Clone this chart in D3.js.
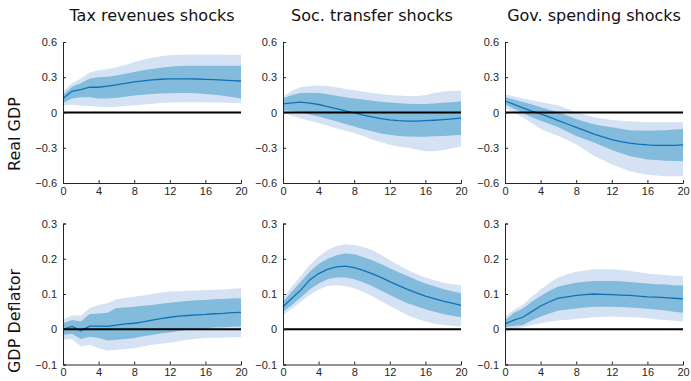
<!DOCTYPE html>
<html>
<head>
<meta charset="utf-8">
<script src="https://cdn.jsdelivr.net/npm/d3@7"></script>
<style>
  html, body { margin: 0; padding: 0; background: #fff; }
  svg { display: block; }
</style>
</head>
<body>
<svg id="chart" width="691" height="381"></svg>
<script>
// Impulse responses, horizons 0..20 quarters: median, 68% band, 90% band
const horizons = d3.range(0, 21);
const shockTitles = ["Tax revenues shocks", "Soc. transfer shocks", "Gov. spending shocks"];
const variableLabels = ["Real GDP", "GDP Deflator"];
const xTicks = [0, 4, 8, 12, 16, 20];
const gdpTicks = [-0.6, -0.3, 0, 0.3, 0.6];
const deflTicks = [-0.1, 0, 0.1, 0.2, 0.3];

// Tax revenues shock -> Real GDP
const taxGdpMed  = [0.12,0.18,0.195,0.215,0.215,0.225,0.235,0.248,0.26,0.27,0.278,0.283,0.286,0.287,0.287,0.285,0.282,0.279,0.276,0.272,0.268];
const taxGdpHi68 = [0.15,0.22,0.25,0.29,0.30,0.305,0.315,0.33,0.345,0.36,0.37,0.38,0.39,0.395,0.397,0.398,0.398,0.398,0.398,0.398,0.398];
const taxGdpLo68 = [0.08,0.12,0.13,0.13,0.12,0.12,0.125,0.135,0.145,0.152,0.158,0.162,0.164,0.165,0.165,0.163,0.158,0.152,0.143,0.132,0.12];
const taxGdpHi90 = [0.18,0.25,0.29,0.34,0.36,0.37,0.385,0.405,0.43,0.45,0.465,0.478,0.487,0.492,0.494,0.494,0.494,0.493,0.492,0.491,0.49];
const taxGdpLo90 = [0.06,0.065,0.06,0.055,0.048,0.045,0.05,0.055,0.062,0.068,0.075,0.08,0.085,0.087,0.088,0.088,0.087,0.085,0.083,0.08,0.078];

// Social transfer shock -> Real GDP
const socGdpMed  = [0.074,0.082,0.088,0.08,0.068,0.05,0.032,0.014,-0.004,-0.022,-0.038,-0.052,-0.062,-0.07,-0.073,-0.073,-0.07,-0.066,-0.061,-0.055,-0.048];
const socGdpHi68 = [0.12,0.15,0.165,0.168,0.165,0.155,0.142,0.13,0.12,0.11,0.10,0.092,0.085,0.078,0.074,0.072,0.072,0.076,0.082,0.088,0.095];
const socGdpLo68 = [0.02,0.012,0.0,-0.018,-0.035,-0.055,-0.075,-0.098,-0.12,-0.14,-0.16,-0.178,-0.19,-0.2,-0.205,-0.207,-0.206,-0.203,-0.2,-0.195,-0.19];
const socGdpHi90 = [0.135,0.185,0.215,0.225,0.23,0.225,0.215,0.2,0.19,0.178,0.165,0.157,0.15,0.145,0.14,0.14,0.148,0.165,0.178,0.182,0.185];
const socGdpLo90 = [-0.005,-0.028,-0.05,-0.07,-0.09,-0.112,-0.135,-0.155,-0.175,-0.2,-0.23,-0.252,-0.275,-0.29,-0.30,-0.315,-0.33,-0.33,-0.32,-0.305,-0.29];

// Government spending shock -> Real GDP
const govGdpMed  = [0.098,0.07,0.04,0.011,-0.012,-0.04,-0.07,-0.098,-0.126,-0.155,-0.184,-0.208,-0.23,-0.247,-0.26,-0.269,-0.276,-0.279,-0.28,-0.279,-0.276];
const govGdpHi68 = [0.13,0.11,0.09,0.068,0.045,0.024,0.003,-0.025,-0.055,-0.078,-0.1,-0.114,-0.126,-0.139,-0.15,-0.153,-0.155,-0.154,-0.15,-0.145,-0.14];
const govGdpLo68 = [0.07,0.032,-0.005,-0.04,-0.07,-0.098,-0.126,-0.163,-0.2,-0.228,-0.256,-0.288,-0.32,-0.345,-0.37,-0.385,-0.4,-0.405,-0.41,-0.412,-0.414];
const govGdpHi90 = [0.155,0.138,0.12,0.105,0.09,0.075,0.06,0.032,0.003,-0.018,-0.04,-0.052,-0.063,-0.07,-0.075,-0.079,-0.083,-0.083,-0.083,-0.083,-0.083];
const govGdpLo90 = [0.04,0.0,-0.04,-0.09,-0.14,-0.17,-0.2,-0.235,-0.27,-0.32,-0.37,-0.405,-0.443,-0.47,-0.5,-0.515,-0.53,-0.537,-0.543,-0.543,-0.543];

// Tax revenues shock -> GDP deflator
const taxDefMed  = [0.0,0.008,-0.004,0.009,0.009,0.008,0.012,0.015,0.017,0.021,0.026,0.03,0.034,0.037,0.039,0.041,0.042,0.044,0.045,0.047,0.048];
const taxDefHi68 = [0.017,0.026,0.022,0.043,0.045,0.047,0.06,0.062,0.064,0.067,0.069,0.072,0.075,0.078,0.08,0.082,0.083,0.085,0.086,0.087,0.088];
const taxDefLo68 = [-0.016,-0.013,-0.028,-0.021,-0.025,-0.032,-0.03,-0.028,-0.025,-0.02,-0.016,-0.012,-0.009,-0.005,-0.002,0.001,0.003,0.005,0.006,0.007,0.008];
const taxDefHi90 = [0.026,0.04,0.038,0.06,0.069,0.074,0.085,0.089,0.092,0.096,0.1,0.104,0.107,0.108,0.109,0.11,0.111,0.112,0.113,0.115,0.116];
const taxDefLo90 = [-0.03,-0.028,-0.049,-0.044,-0.054,-0.06,-0.058,-0.056,-0.054,-0.049,-0.044,-0.041,-0.038,-0.034,-0.03,-0.027,-0.025,-0.024,-0.024,-0.023,-0.023];

// Social transfer shock -> GDP deflator
const socDefMed  = [0.064,0.088,0.111,0.14,0.158,0.17,0.177,0.179,0.175,0.167,0.158,0.147,0.135,0.124,0.113,0.103,0.094,0.087,0.08,0.074,0.068];
const socDefHi68 = [0.078,0.107,0.135,0.163,0.185,0.2,0.21,0.215,0.213,0.205,0.196,0.185,0.173,0.162,0.151,0.14,0.13,0.122,0.114,0.108,0.102];
const socDefLo68 = [0.05,0.069,0.09,0.113,0.13,0.142,0.147,0.147,0.142,0.133,0.123,0.11,0.097,0.085,0.074,0.065,0.057,0.05,0.043,0.038,0.034];
const socDefHi90 = [0.088,0.121,0.151,0.182,0.206,0.225,0.236,0.241,0.239,0.233,0.225,0.211,0.196,0.182,0.168,0.157,0.147,0.139,0.132,0.128,0.125];
const socDefLo90 = [0.04,0.059,0.078,0.097,0.113,0.123,0.125,0.123,0.116,0.106,0.094,0.08,0.066,0.053,0.04,0.03,0.022,0.016,0.012,0.01,0.008];

// Government spending shock -> GDP deflator
const govDefMed  = [0.015,0.026,0.034,0.05,0.066,0.078,0.088,0.092,0.096,0.098,0.1,0.099,0.098,0.097,0.096,0.094,0.092,0.091,0.09,0.088,0.086];
const govDefHi68 = [0.026,0.047,0.059,0.078,0.094,0.109,0.121,0.127,0.132,0.135,0.137,0.137,0.137,0.136,0.134,0.132,0.13,0.128,0.127,0.125,0.124];
const govDefLo68 = [0.006,0.009,0.012,0.025,0.036,0.045,0.053,0.056,0.059,0.062,0.064,0.064,0.064,0.063,0.062,0.06,0.058,0.056,0.053,0.05,0.047];
const govDefHi90 = [0.036,0.055,0.069,0.092,0.113,0.132,0.147,0.156,0.163,0.167,0.17,0.17,0.17,0.168,0.166,0.162,0.158,0.156,0.154,0.152,0.151];
const govDefLo90 = [-0.002,0.0,0.006,0.012,0.017,0.022,0.025,0.027,0.029,0.032,0.034,0.035,0.036,0.035,0.034,0.033,0.031,0.028,0.026,0.024,0.022];

// Panel grid: rows = variables, columns = shocks
const panels = [
  [
    { med: taxGdpMed, lo68: taxGdpLo68, hi68: taxGdpHi68, lo90: taxGdpLo90, hi90: taxGdpHi90 },
    { med: socGdpMed, lo68: socGdpLo68, hi68: socGdpHi68, lo90: socGdpLo90, hi90: socGdpHi90 },
    { med: govGdpMed, lo68: govGdpLo68, hi68: govGdpHi68, lo90: govGdpLo90, hi90: govGdpHi90 }
  ],
  [
    { med: taxDefMed, lo68: taxDefLo68, hi68: taxDefHi68, lo90: taxDefLo90, hi90: taxDefHi90 },
    { med: socDefMed, lo68: socDefLo68, hi68: socDefHi68, lo90: socDefLo90, hi90: socDefHi90 },
    { med: govDefMed, lo68: govDefLo68, hi68: govDefHi68, lo90: govDefLo90, hi90: govDefHi90 }
  ]
];
const rowTicks = [gdpTicks, deflTicks];

// Layout
const colLeft = [63, 283, 505];
const rowTop = [42, 223.5];
const plotW = 178;
const plotH = 141;
const rowLabelY = [134, 321];

const colors = {
  band90: "#d5e2f4",
  band68: "#82bbdb",
  median: "#0f72b8",
  axis: "#262626"
};

const svg = d3.select("#chart");

shockTitles.forEach((t, c) => {
  svg.append("text")
    .attr("x", colLeft[c] + plotW / 2)
    .attr("y", 21)
    .attr("text-anchor", "middle")
    .attr("font-family", "DejaVu Sans, sans-serif")
    .attr("font-size", 16)
    .attr("fill", "#111")
    .text(t);
});

variableLabels.forEach((t, r) => {
  svg.append("text")
    .attr("transform", `translate(20,${rowLabelY[r]}) rotate(-90)`)
    .attr("text-anchor", "middle")
    .attr("font-family", "DejaVu Sans, sans-serif")
    .attr("font-size", 16)
    .attr("fill", "#111")
    .text(t);
});

panels.forEach((row, r) => {
  const ticks = rowTicks[r];
  row.forEach((p, c) => {
    const g = svg.append("g").attr("transform", `translate(${colLeft[c]},${rowTop[r]})`);
    const x = d3.scaleLinear().domain([0, 20]).range([0, plotW]);
    const y = d3.scaleLinear().domain([ticks[0], ticks[ticks.length - 1]]).range([plotH, 0]);

    const band = (lo, hi) => d3.area()
      .x((d, i) => x(horizons[i]))
      .y0((d, i) => y(lo[i]))
      .y1((d, i) => y(hi[i]));

    g.append("path").datum(horizons).attr("d", band(p.lo90, p.hi90)).attr("fill", colors.band90);
    g.append("path").datum(horizons).attr("d", band(p.lo68, p.hi68)).attr("fill", colors.band68);

    g.append("path")
      .datum(horizons)
      .attr("d", d3.line().x((d, i) => x(horizons[i])).y((d, i) => y(p.med[i])))
      .attr("fill", "none")
      .attr("stroke", colors.median)
      .attr("stroke-width", 1.3);

    // zero reference line
    g.append("line")
      .attr("x1", x(0)).attr("x2", x(20))
      .attr("y1", y(0)).attr("y2", y(0))
      .attr("stroke", "#000")
      .attr("stroke-width", 2);

    // axes with inward ticks
    const xAxis = d3.axisBottom(x).tickValues(xTicks).tickSize(-3).tickPadding(6).tickFormat(d3.format("d"));
    const yAxis = d3.axisLeft(y).tickValues(ticks).tickSize(-3).tickPadding(6).tickFormat(d => d === 0 ? "0" : d3.format(".1f")(d));

    const gx = g.append("g").attr("transform", `translate(0,${plotH})`).call(xAxis);
    const gy = g.append("g").call(yAxis);
    [gx, gy].forEach(a => {
      a.select(".domain").attr("stroke", colors.axis).attr("stroke-width", 1);
      a.selectAll(".tick line").attr("stroke", colors.axis);
      a.selectAll("text")
        .attr("fill", colors.axis)
        .attr("font-family", "Liberation Sans, Arial, sans-serif")
        .attr("font-size", 11);
    });
    gx.selectAll("text").attr("dy", "0.5em");
    gy.selectAll("text").attr("dx", "0");
  });
});
</script>
</body>
</html>
